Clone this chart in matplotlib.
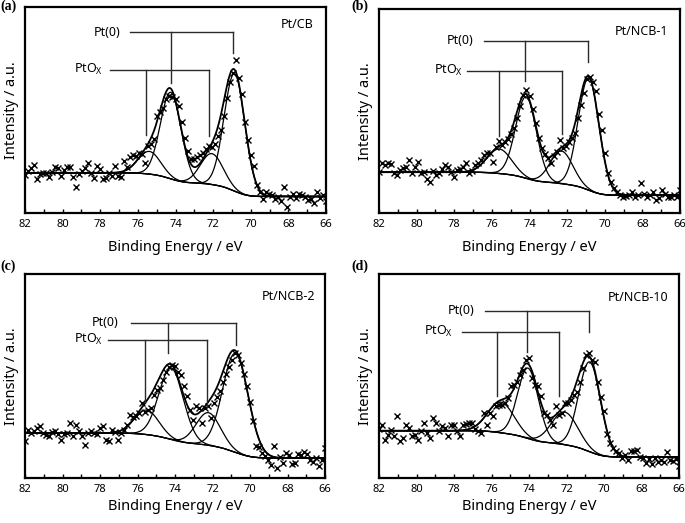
import numpy as np
import matplotlib
matplotlib.use('Agg')
import matplotlib.pyplot as plt
from matplotlib.ticker import MultipleLocator

plt.rcParams['font.family'] = ['Noto Sans', 'DejaVu Sans']
plt.rcParams['mathtext.fontset'] = 'custom'
plt.rcParams['mathtext.rm'] = 'Noto Sans'

# Pt 4f XPS spectra, binding energy of the measured points (0.16 eV step)
energy = np.linspace(82, 66, 101)

panel_labels = ['(a)', '(b)', '(c)', '(d)']
samples = ['Pt/CB', 'Pt/NCB-1', 'Pt/NCB-2', 'Pt/NCB-10']

counts_cb = [
    18.5, 20.5, 21.7, 23.2, 16.3, 18.7, 19.5, 19.3, 17.7, 20.0, 22.5, 21.7, 18.0, 21.0, 22.5, 22.3, 17.4,
    12.8, 19.1, 20.2, 21.7, 24.4, 19.5, 17.0, 22.8, 21.5, 16.3, 17.2, 19.4, 18.0, 22.8, 18.2, 17.5, 25.4,
    22.5, 27.0, 28.2, 27.5, 29.0, 28.5, 24.5, 32.5, 33.5, 36.0, 47.0, 49.0, 51.0, 55.5, 57.0, 56.5, 55.5,
    52.0, 44.0, 36.5, 30.0, 26.0, 26.0, 27.0, 28.0, 29.0, 31.0, 32.5, 32.0, 33.3, 37.5, 40.3, 47.0, 56.0,
    63.5, 68.0, 74.3, 65.4, 58.0, 44.0, 35.6, 28.0, 22.6, 13.6, 10.3, 6.6, 10.0, 9.4, 8.5, 6.6, 7.8, 5.8,
    12.8, 2.8, 8.0, 9.4, 7.5, 9.1, 8.5, 8.0, 6.5, 6.8, 4.9, 10.3, 7.1, 8.5, 5.8]
counts_ncb1 = [
    20.3, 24.3, 23.5, 24.3, 24.0, 19.4, 18.6, 21.0, 22.0, 22.7, 26.0, 19.5, 22.5, 25.2, 19.4, 20.0, 16.5,
    15.4, 20.5, 18.5, 19.5, 21.5, 23.5, 22.7, 20.0, 17.8, 21.0, 21.5, 22.5, 24.3, 19.5, 20.5, 23.5, 24.5,
    26.0, 28.4, 29.2, 29.5, 25.2, 32.5, 35.5, 33.5, 35.0, 36.5, 38.5, 41.5, 46.5, 52.5, 58.0, 60.3, 57.5,
    51.0, 44.0, 37.0, 32.0, 29.0, 27.0, 24.3, 28.0, 30.0, 35.8, 31.7, 33.0, 35.0, 36.6, 39.0, 46.4, 53.0,
    59.0, 65.5, 66.8, 64.4, 60.0, 48.5, 40.5, 29.2, 19.5, 15.4, 12.1, 10.5, 9.0, 8.0, 8.2, 9.0, 10.5, 8.0,
    8.8, 14.5, 9.2, 8.0, 9.0, 10.5, 6.4, 7.5, 11.3, 9.5, 8.0, 8.0, 8.8, 8.0, 11.3]
counts_ncb2 = [
    18.0, 23.5, 22.0, 23.0, 24.5, 25.3, 22.0, 21.2, 20.4, 22.5, 23.0, 21.5, 18.8, 21.5, 22.0, 26.9, 20.5,
    26.1, 23.0, 20.4, 16.3, 22.0, 22.8, 22.0, 21.5, 24.5, 25.3, 18.8, 18.0, 23.5, 22.5, 18.8, 22.0, 23.7,
    26.1, 31.0, 30.0, 30.5, 31.8, 36.7, 32.5, 33.4, 34.3, 40.8, 43.2, 44.0, 48.1, 52.0, 54.6, 55.5, 55.0,
    52.2, 50.5, 45.0, 40.0, 33.5, 28.5, 35.1, 34.3, 26.9, 34.3, 35.1, 29.4, 37.0, 39.5, 42.5, 47.0, 51.0,
    54.5, 58.0, 61.2, 60.4, 56.5, 51.0, 45.0, 37.5, 27.7, 15.5, 15.0, 12.2, 10.6, 9.0, 6.5, 15.5, 4.9, 10.5,
    7.3, 12.2, 11.5, 7.0, 7.5, 12.0, 11.5, 12.6, 12.0, 9.0, 8.0, 10.0, 5.7, 9.0, 14.7]
counts_ncb10 = [
    24.0, 26.1, 18.8, 21.2, 23.7, 20.4, 30.2, 17.9, 19.6, 26.1, 24.5, 20.4, 21.0, 18.8, 23.0, 26.9, 22.0,
    19.6, 29.4, 26.9, 23.0, 25.3, 24.5, 20.4, 26.1, 26.1, 23.0, 20.4, 26.1, 26.5, 26.9, 27.2, 24.0, 22.8,
    22.0, 31.8, 26.1, 31.8, 30.2, 35.1, 35.9, 36.0, 36.7, 39.2, 44.9, 45.7, 47.3, 50.6, 53.0, 57.9, 58.7,
    49.0, 45.7, 44.9, 40.0, 31.8, 31.0, 28.5, 26.1, 35.1, 31.0, 32.0, 36.7, 36.7, 38.3, 40.5, 42.4, 47.0,
    54.0, 60.4, 61.5, 57.9, 57.1, 47.0, 39.5, 32.6, 21.5, 17.0, 14.5, 13.0, 12.2, 9.8, 11.4, 9.0, 13.0, 13.0,
    13.9, 10.5, 9.8, 7.3, 9.5, 7.0, 9.8, 8.0, 9.0, 8.0, 12.6, 9.0, 8.2, 9.5, 5.7]

# fitted components: Pt(0) 4f7/2, Pt(0) 4f5/2, PtOx 4f7/2, PtOx 4f5/2
centers_cb = [70.86, 74.25, 72.07, 75.39]
heights_cb = [57, 42, 15, 11]
sigmas_cb = [0.55, 0.55, 0.6, 0.6]
centers_ncb1 = [70.85, 74.18, 72.3, 75.6]
heights_ncb1 = [55, 40, 16, 12]
sigmas_ncb1 = [0.55, 0.55, 0.6, 0.65]
centers_ncb2 = [70.77, 74.2, 72.22, 75.51]
heights_ncb2 = [48.5, 35, 16, 12]
sigmas_ncb2 = [0.68, 0.65, 0.65, 0.65]
centers_ncb10 = [70.76, 74.05, 72.1, 75.5]
heights_ncb10 = [44, 34.5, 16, 15]
sigmas_ncb10 = [0.58, 0.55, 0.7, 0.7]
# Shirley background end levels (82 eV side, 66 eV side)
bg_cb = [19.5, 8.0]
bg_ncb1 = [20.0, 8.7]
bg_ncb2 = [22.0, 9.8]
bg_ncb10 = [23.2, 10.3]

counts = [counts_cb, counts_ncb1, counts_ncb2, counts_ncb10]
centers = [centers_cb, centers_ncb1, centers_ncb2, centers_ncb10]
heights = [heights_cb, heights_ncb1, heights_ncb2, heights_ncb10]
sigmas = [sigmas_cb, sigmas_ncb1, sigmas_ncb2, sigmas_ncb10]
bgs = [bg_cb, bg_ncb1, bg_ncb2, bg_ncb10]

# layout: axes rectangles in pixels (left, top, right, bottom) of the 685x523 figure
boxes = [(25, 7, 326, 213), (379, 9, 680, 213), (25, 274, 325, 478), (379, 274, 679, 478)]
label_pos = [(0, 0), (351, 0), (0, 260), (351, 260)]
sample_pos = [(0.957, 0.917), (0.961, 0.889), (0.967, 0.892), (0.963, 0.886)]
xlabel_off = [35, 35, 28.5, 28.5]
# brackets: text right edge, line start, line end, line y, inner leg x, inner leg bottom, outer leg bottom
pt0_marks = [(76.95, 76.41, 70.92, 87.7, 74.23, 63.0, 77.5),
             (76.98, 76.41, 70.87, 84.5, 74.23, 64.8, 74.2),
             (77.02, 76.35, 70.75, 76.2, 74.39, 61.2, 65.2),
             (76.89, 76.35, 70.80, 82.0, 74.13, 62.0, 71.8)]
ptox_marks = [(77.87, 77.48, 72.2, 69.6, 75.56, 37.9, 37.4),
              (77.52, 77.34, 72.28, 69.8, 75.62, 37.7, 38.5),
              (77.82, 77.55, 72.31, 67.7, 75.6, 36.7, 35.0),
              (78.04, 77.60, 72.40, 71.8, 75.73, 40.0, 40.0)]

W, H = 685, 523
fig = plt.figure(figsize=(W / 100, H / 100), dpi=100)
e_fine = np.linspace(66, 82, 1200)
line_col = '#2a2a2a'

for i in range(4):
    l, t, r, b = boxes[i]
    ax = fig.add_axes([l / W, 1 - b / H, (r - l) / W, (b - t) / H])

    # peaks and Shirley background
    comps = [h * np.exp(-0.5 * ((e_fine - c) / s) ** 2) for c, h, s in zip(centers[i], heights[i], sigmas[i])]
    total = np.sum(comps, axis=0)
    cum = np.cumsum(total)
    cum = cum / cum[-1]
    hi, lo = bgs[i]
    bg = lo + (hi - lo) * cum

    ax.plot(e_fine, bg, color='k', lw=0.9)
    for g in comps:
        ax.plot(e_fine, bg + g, color='k', lw=0.9)
    ax.plot(e_fine, bg + total, color='k', lw=1.3)
    ax.plot(energy, counts[i], 'x', color='k', ms=3.8, mew=1.0)

    # peak assignment brackets
    for label, mk in [('Pt(0)', pt0_marks[i]), ('PtO$_{\\mathregular{X}}$', ptox_marks[i])]:
        xt, x0, x1, y, xa, ya, yb = mk
        ax.text(xt, y, label, ha='right', va='center', fontsize=9)
        ax.plot([x0, x1], [y, y], color=line_col, lw=1.0)
        ax.plot([xa, xa], [y, ya], color=line_col, lw=1.0)
        ax.plot([x1, x1], [y, yb], color=line_col, lw=1.0)

    ax.text(sample_pos[i][0], sample_pos[i][1], samples[i], transform=ax.transAxes,
            ha='right', va='center', fontsize=9)

    ax.set_xlim(82, 66)
    ax.set_ylim(0, 100)
    ax.xaxis.set_major_locator(MultipleLocator(2))
    ax.xaxis.set_minor_locator(MultipleLocator(1))
    ax.tick_params(axis='x', which='both', direction='in', length=3, width=1.0,
                   labelsize=8, pad=4)
    ax.set_yticks([])
    for sp in ax.spines.values():
        sp.set_linewidth(1.6)

    ax.set_xlabel('Binding Energy / eV', fontsize=10.5)
    ax.xaxis.set_label_coords(0.5, -xlabel_off[i] / (b - t))
    ax.xaxis.label.set_va('center')
    ax.set_ylabel('Intensity / a.u.', fontsize=10.5)
    ax.yaxis.set_label_coords(-13.5 / (r - l), 0.5)
    ax.yaxis.label.set_va('center')

    fig.text(label_pos[i][0] / W, 1 - label_pos[i][1] / H, panel_labels[i], ha='left', va='top',
             fontsize=10, fontweight='bold', family='Liberation Serif')

fig.savefig('out.png', dpi=100)
